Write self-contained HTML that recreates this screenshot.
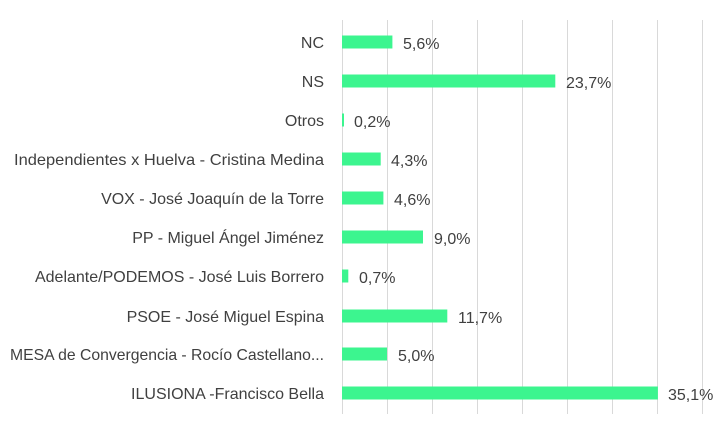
<!DOCTYPE html>
<html><head><meta charset="utf-8"><style>
body{margin:0;background:#fff;}
text{font-family:"Liberation Sans",sans-serif;fill:#404040;font-size:16px;}
</style></head><body>
<svg width="721" height="431" xmlns="http://www.w3.org/2000/svg">
<g stroke="#d9d9d9" stroke-width="1">
<line x1="342.5" y1="20" x2="342.5" y2="414"/>
<line x1="387.5" y1="20" x2="387.5" y2="414"/>
<line x1="432.5" y1="20" x2="432.5" y2="414"/>
<line x1="477.5" y1="20" x2="477.5" y2="414"/>
<line x1="522.5" y1="20" x2="522.5" y2="414"/>
<line x1="567.5" y1="20" x2="567.5" y2="414"/>
<line x1="612.5" y1="20" x2="612.5" y2="414"/>
<line x1="657.5" y1="20" x2="657.5" y2="414"/>
<line x1="702.5" y1="20" x2="702.5" y2="414"/>
</g>
<g fill="#3cf58f">
<rect x="342" y="35.5" width="50.4" height="13"/>
<rect x="342" y="74.5" width="213.3" height="13"/>
<rect x="342" y="113.5" width="2" height="13"/>
<rect x="342" y="152.5" width="38.7" height="13"/>
<rect x="342" y="191.5" width="41.4" height="13"/>
<rect x="342" y="230.5" width="81" height="13"/>
<rect x="342" y="269.5" width="6.3" height="13"/>
<rect x="342" y="309.5" width="105.3" height="13"/>
<rect x="342" y="347.5" width="45" height="13"/>
<rect x="342" y="386.5" width="315.9" height="13"/>
</g>
<g text-anchor="end">
<text x="324" y="48">NC</text>
<text x="324" y="87">NS</text>
<text x="324" y="126">Otros</text>
<text x="324" y="165" textLength="310" lengthAdjust="spacingAndGlyphs">Independientes x Huelva - Cristina Medina</text>
<text x="324" y="204">VOX - José Joaquín de la Torre</text>
<text x="324" y="243">PP - Miguel Ángel Jiménez</text>
<text x="324" y="282">Adelante/PODEMOS - José Luis Borrero</text>
<text x="324" y="322">PSOE - José Miguel Espina</text>
<text x="324" y="360" textLength="314" lengthAdjust="spacingAndGlyphs">MESA de Convergencia - Rocío Castellano...</text>
<text x="324" y="399">ILUSIONA -Francisco Bella</text>
</g>
<g>
<text x="403" y="49">5,6%</text>
<text x="566" y="88">23,7%</text>
<text x="354" y="127">0,2%</text>
<text x="391" y="166">4,3%</text>
<text x="394" y="205">4,6%</text>
<text x="434" y="244">9,0%</text>
<text x="359" y="283">0,7%</text>
<text x="458" y="323">11,7%</text>
<text x="398" y="361">5,0%</text>
<text x="668" y="400">35,1%</text>
</g>
</svg>
</body></html>
